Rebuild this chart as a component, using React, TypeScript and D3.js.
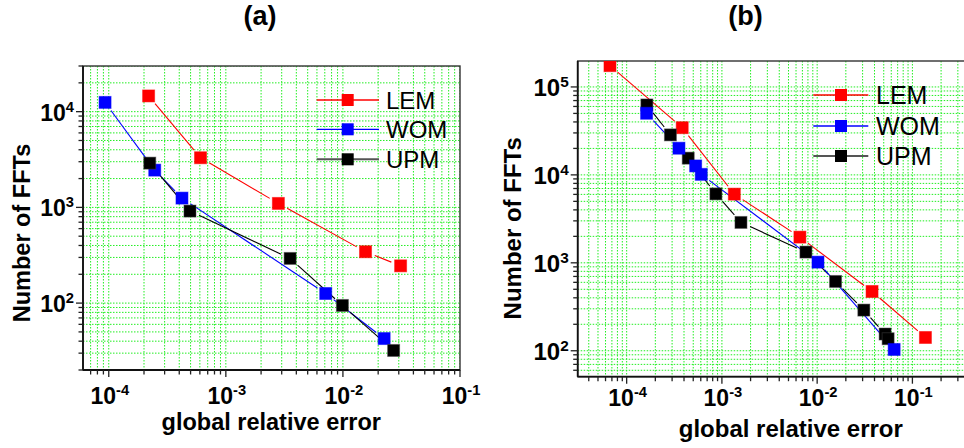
import React from "react";
import * as d3 from "d3";

// ---------- data ----------
const seriesNames = ["LEM", "WOM", "UPM"];

// panel (a)
const aLemErr = [2.19e-4, 6.08e-4, 2.81e-3, 1.56e-2, 3.11e-2];
const aLemFft = [14600, 3300, 1100, 344, 245];
const aWomErr = [9.3e-5, 2.47e-4, 4.22e-4, 7.13e-3, 2.25e-2];
const aWomFft = [12500, 2450, 1250, 126, 42.6];
const aUpmErr = [2.24e-4, 4.94e-4, 3.54e-3, 9.9e-3, 2.71e-2];
const aUpmFft = [2900, 915, 293, 94.5, 32];

// panel (b)
const bLemErr = [6.68e-5, 3.83e-4, 1.35e-3, 6.59e-3, 3.77e-2, 0.137];
const bLemFft = [174600, 34400, 6040, 1960, 472, 141.6];
const bWomErr = [1.62e-4, 3.54e-4, 5.3e-4, 6.07e-4, 1.02e-2, 6.43e-2];
const bWomFft = [50200, 20100, 12640, 10140, 1018, 103.5];
const bUpmErr = [1.63e-4, 2.88e-4, 4.43e-4, 8.65e-4, 1.585e-3, 7.62e-3, 1.56e-2, 3.09e-2, 5.17e-2, 5.56e-2];
const bUpmFft = [62400, 28500, 15500, 6080, 2880, 1325, 614, 290, 155, 137];

const aXTicks = [-4, -3, -2, -1];
const aYTicks = [2, 3, 4];
const bXTicks = [-4, -3, -2, -1];
const bYTicks = [2, 3, 4, 5];

const titles = ["(a)", "(b)"];
const xLabel = "global relative error";
const yLabel = "Number of FFTs";

// ---------- styles ----------
const COLORS: Record<string, string> = { LEM: "#ff0000", WOM: "#0000ff", UPM: "#000000" };
const LEGEND_LINE: Record<string, string> = { LEM: "#ff0000", WOM: "#0000ff", UPM: "#555555" };
const FONT = "Arial, 'Liberation Sans', Helvetica, sans-serif";
const GRID = "#22ee22";

type Series = { name: string; err: number[]; fft: number[] };

function minorTicks(lo: number, hi: number) {
  const out: { v: number; major: boolean }[] = [];
  const e0 = Math.floor(Math.log10(lo));
  const e1 = Math.ceil(Math.log10(hi));
  for (let e = e0; e <= e1; e++) {
    for (let m = 1; m <= 9; m++) {
      const v = m * Math.pow(10, e);
      if (v >= lo * 0.9999 && v <= hi * 1.0001) out.push({ v, major: m === 1 });
    }
  }
  return out;
}

type PanelProps = {
  title: string;
  titleX: number;
  left: number; right: number; top: number; bottom: number;
  xDomain: [number, number];
  yDomain: [number, number];
  xTicks: number[];
  yTicks: number[];
  series: Series[];
  order: string[];
  legendX: [number, number, number, number];
  legendY: number[];
  legendFont: number;
  yTickFont: number;
  xTickFont: number;
  xTickBaseline: number;
  yLabelX: number; yLabelY: number; yLabelFont: number;
  xLabelX: number; xLabelY: number; xLabelFont: number;
};

function Panel(p: PanelProps) {
  const x = d3.scaleLog().domain(p.xDomain).range([p.left, p.right]);
  const y = d3.scaleLog().domain(p.yDomain).range([p.bottom, p.top]);
  const xt = minorTicks(p.xDomain[0], p.xDomain[1]);
  const yt = minorTicks(p.yDomain[0], p.yDomain[1]);
  const ms = 12;
  const gap = 10;
  const clipId = "clip" + p.title.replace(/[()]/g, "");
  const ordered = p.order.map((n) => p.series.find((s) => s.name === n)!);

  const segs = (s: Series) => {
    const pts = s.err.map((e, i) => [x(e), y(s.fft[i])]);
    const out: number[][] = [];
    for (let i = 0; i < pts.length - 1; i++) {
      const [x0, y0] = pts[i];
      const [x1, y1] = pts[i + 1];
      const d = Math.hypot(x1 - x0, y1 - y0);
      if (d <= 2 * gap + 2) continue;
      const ux = (x1 - x0) / d, uy = (y1 - y0) / d;
      out.push([x0 + ux * gap, y0 + uy * gap, x1 - ux * gap, y1 - uy * gap]);
    }
    return out;
  };

  return (
    <g>
      <defs>
        <clipPath id={clipId}>
          <rect x={p.left} y={p.top} width={p.right - p.left} height={p.bottom - p.top} />
        </clipPath>
      </defs>
      <text x={p.titleX} y={25} textAnchor="middle" fontFamily={FONT} fontWeight="bold" fontSize={27}>
        {p.title}
      </text>
      <g clipPath={`url(#${clipId})`}>
        {xt.map((t, i) => (
          <line key={"gx" + i} x1={x(t.v)} x2={x(t.v)} y1={p.top} y2={p.bottom}
            stroke={GRID} strokeWidth={1} strokeDasharray="1.5 1.5" />
        ))}
        {yt.map((t, i) => (
          <line key={"gy" + i} x1={p.left} x2={p.right} y1={y(t.v)} y2={y(t.v)}
            stroke={GRID} strokeWidth={1} strokeDasharray="1.5 1.5" />
        ))}
      </g>
      <rect x={p.left} y={p.top} width={p.right - p.left} height={p.bottom - p.top}
        fill="none" stroke="#333" strokeWidth={1.4} />
      <line x1={p.left} x2={p.left} y1={p.top} y2={p.bottom} stroke="#111" strokeWidth={1.8} />
      <line x1={p.left} x2={p.right} y1={p.bottom} y2={p.bottom} stroke="#111" strokeWidth={1.8} />
      {xt.map((t, i) => (
        <line key={"tx" + i} x1={x(t.v)} x2={x(t.v)} y1={p.bottom} y2={p.bottom + (t.major ? 7 : 4.5)}
          stroke="#222" strokeWidth={1.3} />
      ))}
      {yt.map((t, i) => (
        <line key={"ty" + i} x1={p.left} x2={p.left - (t.major ? 7 : 4.5)} y1={y(t.v)} y2={y(t.v)}
          stroke="#222" strokeWidth={1.3} />
      ))}
      {p.xTicks.map((e) => (
        <text key={"lx" + e} x={x(Math.pow(10, e)) + 1} y={p.xTickBaseline} textAnchor="middle"
          fontFamily={FONT} fontWeight="bold" fontSize={p.xTickFont}>
          10<tspan dy={-9} fontSize={p.xTickFont * 0.64}>{e < 0 ? "-" + Math.abs(e) : e}</tspan>
        </text>
      ))}
      {p.yTicks.map((e) => (
        <text key={"ly" + e} x={p.left - 9} y={y(Math.pow(10, e)) + 9} textAnchor="end"
          fontFamily={FONT} fontWeight="bold" fontSize={p.yTickFont}>
          10<tspan dy={-9} fontSize={p.yTickFont * 0.64}>{e}</tspan>
        </text>
      ))}
      <text transform={`translate(${p.yLabelX},${p.yLabelY}) rotate(-90)`} textAnchor="middle"
        fontFamily={FONT} fontWeight="bold" fontSize={p.yLabelFont}>{yLabel}</text>
      <text x={p.xLabelX} y={p.xLabelY} textAnchor="middle"
        fontFamily={FONT} fontWeight="bold" fontSize={p.xLabelFont}>{xLabel}</text>
      <g clipPath={`url(#${clipId})`}>
        {ordered.map((s) => (
          <g key={"l" + s.name}>
            {segs(s).map((sg, i) => (
              <line key={i} x1={sg[0]} y1={sg[1]} x2={sg[2]} y2={sg[3]}
                stroke={COLORS[s.name]} strokeWidth={1.1} />
            ))}
          </g>
        ))}
        {ordered.map((s) => (
          <g key={"m" + s.name}>
            {s.err.map((e, i) => (
              <rect key={i} x={x(e) - ms / 2} y={y(s.fft[i]) - ms / 2} width={ms} height={ms}
                fill={COLORS[s.name]} stroke={s.name === "UPM" ? "#444" : COLORS[s.name]}
                strokeOpacity={0.5} strokeWidth={1} />
            ))}
          </g>
        ))}
      </g>
      {seriesNames.map((n, i) => (
        <g key={"lg" + n}>
          <line x1={p.legendX[0]} x2={p.legendX[2]} y1={p.legendY[i]} y2={p.legendY[i]}
            stroke={LEGEND_LINE[n]} strokeWidth={n === "UPM" ? 2 : 1.3} />
          <rect x={p.legendX[1] - ms / 2} y={p.legendY[i] - ms / 2} width={ms} height={ms}
            fill={COLORS[n]} />
          <text x={p.legendX[3]} y={p.legendY[i] + 9} fontFamily={FONT} fontSize={p.legendFont}>{n}</text>
        </g>
      ))}
    </g>
  );
}

export default function App() {
  const aSeries: Series[] = [
    { name: "LEM", err: aLemErr, fft: aLemFft },
    { name: "WOM", err: aWomErr, fft: aWomFft },
    { name: "UPM", err: aUpmErr, fft: aUpmFft },
  ];
  const bSeries: Series[] = [
    { name: "LEM", err: bLemErr, fft: bLemFft },
    { name: "WOM", err: bWomErr, fft: bWomFft },
    { name: "UPM", err: bUpmErr, fft: bUpmFft },
  ];
  return (
    <svg width={964} height={448} style={{ position: "absolute", left: 0, top: 0, background: "#fff" }}>
      <rect x={0} y={0} width={964} height={448} fill="#fff" />
      <Panel
        title={titles[0]} titleX={260}
        left={83} right={460} top={66} bottom={370}
        xDomain={[Math.pow(10, -4.22), 0.1]} yDomain={[20, 30000]}
        xTicks={aXTicks} yTicks={aYTicks}
        series={aSeries} order={["LEM", "WOM", "UPM"]}
        legendX={[316.7, 347.7, 379, 386]} legendY={[100, 129.3, 159.3]} legendFont={24}
        yTickFont={23} xTickFont={23} xTickBaseline={404}
        yLabelX={30} yLabelY={233} yLabelFont={23.5}
        xLabelX={271.3} xLabelY={430} xLabelFont={23.5}
      />
      <Panel
        title={titles[1]} titleX={745.5}
        left={577.7} right={966.7} top={61} bottom={376.7}
        xDomain={[Math.pow(10, -4.514), Math.pow(10, -0.43)]} yDomain={[Math.pow(10, 1.705), Math.pow(10, 5.295)]}
        xTicks={bXTicks} yTicks={bYTicks}
        series={bSeries} order={["LEM", "UPM", "WOM"]}
        legendX={[813.3, 841, 868.3, 876]} legendY={[95, 126, 156]} legendFont={25}
        yTickFont={24} xTickFont={23} xTickBaseline={406}
        yLabelX={521} yLabelY={228.3} yLabelFont={24}
        xLabelX={790.8} xLabelY={436.5} xLabelFont={24}
      />
    </svg>
  );
}
